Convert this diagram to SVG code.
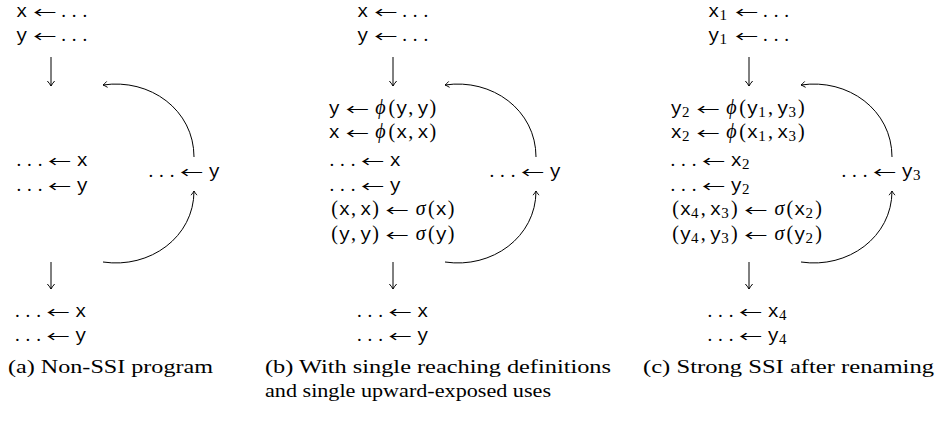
<svg xmlns="http://www.w3.org/2000/svg" width="940" height="424" viewBox="0 0 940 424">
<style>
text{font-family:"Liberation Serif","DejaVu Serif",serif;font-size:20px;fill:#000}
.d{font-size:19px}
.tt{font-family:"Liberation Mono","DejaVu Sans Mono",monospace;font-size:19px}
.it{font-style:italic}
.s{font-family:"Liberation Serif","DejaVu Serif",serif;font-size:15px}
.ar{font-family:"Noto Sans CJK SC","DejaVu Sans",sans-serif;font-size:20px}
.cap{font-size:19px}
.conn path{fill:none;stroke:#000;stroke-width:1}
</style>
<defs>
<marker id="hd" markerUnits="userSpaceOnUse" viewBox="-8 -5 10 10" markerWidth="10" markerHeight="10" refX="0" refY="0" orient="auto" overflow="visible">
<path d="M-5,-3.6 Q-2,-1 0,0 Q-2,1 -5,3.6" fill="none" stroke="#000" stroke-width="1"/>
</marker>
<marker id="hc" markerUnits="userSpaceOnUse" viewBox="-8 -5 10 10" markerWidth="10" markerHeight="10" refX="0" refY="0" orient="auto" overflow="visible">
<path d="M-4.2,-3 Q-1.6,-0.8 0,0 Q-1.6,0.8 -4.2,3" fill="none" stroke="#000" stroke-width="0.9"/>
</marker>
</defs>

<g id="a-entry">
<text class="tt" x="16.1" y="17">x</text>
<text class="ar" transform="translate(33.15,17.5) scale(1,0.72)" textLength="23" lengthAdjust="spacingAndGlyphs">←</text>
<text class="d" x="61.25 71.85 82.45" y="17">...</text>
<text class="tt" x="16.1" y="41">y</text>
<text class="ar" transform="translate(33.15,41.5) scale(1,0.72)" textLength="23" lengthAdjust="spacingAndGlyphs">←</text>
<text class="d" x="61.25 71.85 82.45" y="41">...</text>
</g>
<g id="a-body">
<text class="d" x="16.5 27.1 37.7" y="166">...</text>
<text class="ar" transform="translate(47.9,166.5) scale(1,0.72)" textLength="23" lengthAdjust="spacingAndGlyphs">←</text>
<text class="tt" x="76.6" y="166">x</text>
<text class="d" x="16.5 27.1 37.7" y="191">...</text>
<text class="ar" transform="translate(47.9,191.5) scale(1,0.72)" textLength="23" lengthAdjust="spacingAndGlyphs">←</text>
<text class="tt" x="76.6" y="191">y</text>
</g>
<g id="a-loop">
<text class="d" x="148.5 159.1 169.7" y="177">...</text>
<text class="ar" transform="translate(179.9,177.5) scale(1,0.72)" textLength="23" lengthAdjust="spacingAndGlyphs">←</text>
<text class="tt" x="208.6" y="177">y</text>
</g>
<g id="a-exit">
<text class="d" x="15 25.6 36.2" y="317">...</text>
<text class="ar" transform="translate(46.4,317.5) scale(1,0.72)" textLength="23" lengthAdjust="spacingAndGlyphs">←</text>
<text class="tt" x="75.1" y="317">x</text>
<text class="d" x="15 25.6 36.2" y="341">...</text>
<text class="ar" transform="translate(46.4,341.5) scale(1,0.72)" textLength="23" lengthAdjust="spacingAndGlyphs">←</text>
<text class="tt" x="75.1" y="341">y</text>
</g>
<g id="a-caption">
<text class="cap" x="8" y="373" textLength="205" lengthAdjust="spacingAndGlyphs">(a) Non-SSI program</text>
</g>

<g id="b-entry">
<text class="tt" x="357.1" y="17">x</text>
<text class="ar" transform="translate(374.15,17.5) scale(1,0.72)" textLength="23" lengthAdjust="spacingAndGlyphs">←</text>
<text class="d" x="402.25 412.85 423.45" y="17">...</text>
<text class="tt" x="357.1" y="41">y</text>
<text class="ar" transform="translate(374.15,41.5) scale(1,0.72)" textLength="23" lengthAdjust="spacingAndGlyphs">←</text>
<text class="d" x="402.25 412.85 423.45" y="41">...</text>
</g>
<g id="b-body">
<text class="tt" x="328.6" y="114">y</text>
<text class="ar" transform="translate(345.65,114.5) scale(1,0.72)" textLength="23" lengthAdjust="spacingAndGlyphs">←</text>
<text y="114"><tspan class="it" x="375.35">ϕ</tspan><tspan x="388.55">(</tspan><tspan class="tt" x="396">y</tspan><tspan x="408.3">,</tspan><tspan class="tt" x="417.35">y</tspan><tspan x="429.6">)</tspan></text>
<text class="tt" x="328.6" y="138">x</text>
<text class="ar" transform="translate(345.65,138.5) scale(1,0.72)" textLength="23" lengthAdjust="spacingAndGlyphs">←</text>
<text y="138"><tspan class="it" x="375.35">ϕ</tspan><tspan x="388.55">(</tspan><tspan class="tt" x="396">x</tspan><tspan x="408.3">,</tspan><tspan class="tt" x="417.35">x</tspan><tspan x="429.6">)</tspan></text>
<text class="d" x="329.5 340.1 350.7" y="166">...</text>
<text class="ar" transform="translate(360.9,166.5) scale(1,0.72)" textLength="23" lengthAdjust="spacingAndGlyphs">←</text>
<text class="tt" x="389.6" y="166">x</text>
<text class="d" x="329.5 340.1 350.7" y="191">...</text>
<text class="ar" transform="translate(360.9,191.5) scale(1,0.72)" textLength="23" lengthAdjust="spacingAndGlyphs">←</text>
<text class="tt" x="389.6" y="191">y</text>
<text y="215"><tspan x="331.2">(</tspan><tspan class="tt" x="338.66">x</tspan><tspan x="350.96">,</tspan><tspan class="tt" x="359.98">x</tspan><tspan x="372.28">)</tspan></text>
<text class="ar" transform="translate(385.6,215.5) scale(1,0.72)" textLength="23" lengthAdjust="spacingAndGlyphs">←</text>
<text y="215"><tspan class="it" x="415.8">σ</tspan><tspan x="427.99">(</tspan><tspan class="tt" x="435.45">x</tspan><tspan x="447.75">)</tspan></text>
<text y="240"><tspan x="331.2">(</tspan><tspan class="tt" x="338.66">y</tspan><tspan x="350.96">,</tspan><tspan class="tt" x="359.98">y</tspan><tspan x="372.28">)</tspan></text>
<text class="ar" transform="translate(385.6,240.5) scale(1,0.72)" textLength="23" lengthAdjust="spacingAndGlyphs">←</text>
<text y="240"><tspan class="it" x="415.8">σ</tspan><tspan x="427.99">(</tspan><tspan class="tt" x="435.45">y</tspan><tspan x="447.75">)</tspan></text>
</g>
<g id="b-loop">
<text class="d" x="489.5 500.1 510.7" y="177">...</text>
<text class="ar" transform="translate(520.9,177.5) scale(1,0.72)" textLength="23" lengthAdjust="spacingAndGlyphs">←</text>
<text class="tt" x="549.6" y="177">y</text>
</g>
<g id="b-exit">
<text class="d" x="357 367.6 378.2" y="317">...</text>
<text class="ar" transform="translate(388.4,317.5) scale(1,0.72)" textLength="23" lengthAdjust="spacingAndGlyphs">←</text>
<text class="tt" x="417.1" y="317">x</text>
<text class="d" x="357 367.6 378.2" y="341">...</text>
<text class="ar" transform="translate(388.4,341.5) scale(1,0.72)" textLength="23" lengthAdjust="spacingAndGlyphs">←</text>
<text class="tt" x="417.1" y="341">y</text>
</g>
<g id="b-caption">
<text class="cap" x="265" y="373" textLength="346" lengthAdjust="spacingAndGlyphs">(b) With single reaching definitions</text>
<text class="cap" x="265" y="397" textLength="286" lengthAdjust="spacingAndGlyphs">and single upward-exposed uses</text>
</g>

<g id="c-entry">
<text y="17"><tspan class="tt" x="708.1">x</tspan><tspan class="s" x="719.55" y="20.3">1</tspan></text>
<text class="ar" transform="translate(734.95,17.5) scale(1,0.72)" textLength="23" lengthAdjust="spacingAndGlyphs">←</text>
<text class="d" x="763.05 773.65 784.25" y="17">...</text>
<text y="41"><tspan class="tt" x="708.1">y</tspan><tspan class="s" x="719.55" y="44.3">1</tspan></text>
<text class="ar" transform="translate(734.95,41.5) scale(1,0.72)" textLength="23" lengthAdjust="spacingAndGlyphs">←</text>
<text class="d" x="763.05 773.65 784.25" y="41">...</text>
</g>
<g id="c-body">
<text y="114"><tspan class="tt" x="670.6">y</tspan><tspan class="s" x="682.05" y="117.3">2</tspan></text>
<text class="ar" transform="translate(696.45,114.5) scale(1,0.72)" textLength="23" lengthAdjust="spacingAndGlyphs">←</text>
<text y="114"><tspan class="it" x="726.15">ϕ</tspan><tspan x="739.35">(</tspan><tspan class="tt" x="746.8">y</tspan><tspan class="s" x="758.26" y="117.3">1</tspan><tspan x="767.9" y="114">,</tspan><tspan class="tt" x="776.93">y</tspan><tspan class="s" x="788.38" y="117.3">3</tspan><tspan x="798.03" y="114">)</tspan></text>
<text y="138"><tspan class="tt" x="670.6">x</tspan><tspan class="s" x="682.05" y="141.3">2</tspan></text>
<text class="ar" transform="translate(696.45,138.5) scale(1,0.72)" textLength="23" lengthAdjust="spacingAndGlyphs">←</text>
<text y="138"><tspan class="it" x="726.15">ϕ</tspan><tspan x="739.35">(</tspan><tspan class="tt" x="746.8">x</tspan><tspan class="s" x="758.26" y="141.3">1</tspan><tspan x="767.9" y="138">,</tspan><tspan class="tt" x="776.93">x</tspan><tspan class="s" x="788.38" y="141.3">3</tspan><tspan x="798.03" y="138">)</tspan></text>
<text class="d" x="670.5 681.1 691.7" y="166">...</text>
<text class="ar" transform="translate(701.9,166.5) scale(1,0.72)" textLength="23" lengthAdjust="spacingAndGlyphs">←</text>
<text y="166"><tspan class="tt" x="730.6">x</tspan><tspan class="s" x="742.05" y="169.3">2</tspan></text>
<text class="d" x="670.5 681.1 691.7" y="191">...</text>
<text class="ar" transform="translate(701.9,191.5) scale(1,0.72)" textLength="23" lengthAdjust="spacingAndGlyphs">←</text>
<text y="191"><tspan class="tt" x="730.6">y</tspan><tspan class="s" x="742.05" y="194.3">2</tspan></text>
<text y="215"><tspan x="672.2">(</tspan><tspan class="tt" x="679.66">x</tspan><tspan class="s" x="691.11" y="218.3">4</tspan><tspan x="700.76" y="215">,</tspan><tspan class="tt" x="709.78">x</tspan><tspan class="s" x="721.23" y="218.3">3</tspan><tspan x="730.88" y="215">)</tspan></text>
<text class="ar" transform="translate(744.19,215.5) scale(1,0.72)" textLength="23" lengthAdjust="spacingAndGlyphs">←</text>
<text y="215"><tspan class="it" x="774.39">σ</tspan><tspan x="786.59">(</tspan><tspan class="tt" x="794.05">x</tspan><tspan class="s" x="805.5" y="218.3">2</tspan><tspan x="815.15" y="215">)</tspan></text>
<text y="240"><tspan x="672.2">(</tspan><tspan class="tt" x="679.66">y</tspan><tspan class="s" x="691.11" y="243.3">4</tspan><tspan x="700.76" y="240">,</tspan><tspan class="tt" x="709.78">y</tspan><tspan class="s" x="721.23" y="243.3">3</tspan><tspan x="730.88" y="240">)</tspan></text>
<text class="ar" transform="translate(744.19,240.5) scale(1,0.72)" textLength="23" lengthAdjust="spacingAndGlyphs">←</text>
<text y="240"><tspan class="it" x="774.39">σ</tspan><tspan x="786.59">(</tspan><tspan class="tt" x="794.05">y</tspan><tspan class="s" x="805.5" y="243.3">2</tspan><tspan x="815.15" y="240">)</tspan></text>
</g>
<g id="c-loop">
<text class="d" x="841.5 852.1 862.7" y="177">...</text>
<text class="ar" transform="translate(872.9,177.5) scale(1,0.72)" textLength="23" lengthAdjust="spacingAndGlyphs">←</text>
<text y="177"><tspan class="tt" x="901.6">y</tspan><tspan class="s" x="913.05" y="180.3">3</tspan></text>
</g>
<g id="c-exit">
<text class="d" x="707.5 718.1 728.7" y="317">...</text>
<text class="ar" transform="translate(738.9,317.5) scale(1,0.72)" textLength="23" lengthAdjust="spacingAndGlyphs">←</text>
<text y="317"><tspan class="tt" x="767.6">x</tspan><tspan class="s" x="779.05" y="320.3">4</tspan></text>
<text class="d" x="707.5 718.1 728.7" y="341">...</text>
<text class="ar" transform="translate(738.9,341.5) scale(1,0.72)" textLength="23" lengthAdjust="spacingAndGlyphs">←</text>
<text y="341"><tspan class="tt" x="767.6">y</tspan><tspan class="s" x="779.05" y="344.3">4</tspan></text>
</g>
<g id="c-caption">
<text class="cap" x="643" y="373" textLength="291" lengthAdjust="spacingAndGlyphs">(c) Strong SSI after renaming</text>
</g>

<g id="connectors" class="conn">
<path d="M51,57 V86" marker-end="url(#hd)"/>
<path d="M51,262 V289" marker-end="url(#hd)"/>
<path d="M194,157 C194,110 150,78 103,85" marker-end="url(#hc)"/>
<path d="M103,262 C150,269 194,237 194,191" marker-end="url(#hc)"/>
<path d="M393,57 V86" marker-end="url(#hd)"/>
<path d="M393,262 V289" marker-end="url(#hd)"/>
<path d="M536,157 C536,110 492,78 445,85" marker-end="url(#hc)"/>
<path d="M445,262 C492,269 536,237 536,191" marker-end="url(#hc)"/>
<path d="M749,57 V86" marker-end="url(#hd)"/>
<path d="M749,262 V289" marker-end="url(#hd)"/>
<path d="M892,157 C892,110 848,78 801,85" marker-end="url(#hc)"/>
<path d="M801,262 C848,269 892,237 892,191" marker-end="url(#hc)"/>
</g>
</svg>
